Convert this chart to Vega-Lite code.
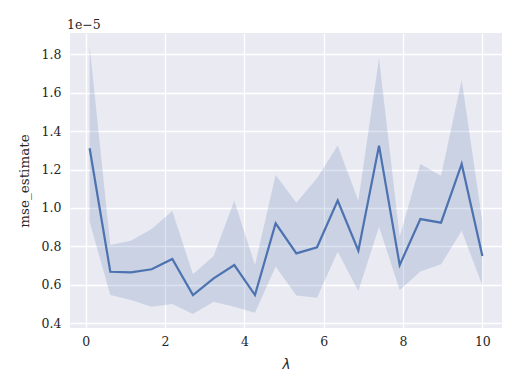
{
  "$schema": "https://vega.github.io/schema/vega-lite/v6.json",
  "width": 432,
  "height": 295,
  "autosize": {"type": "none"},
  "padding": {"left": 70, "top": 33, "right": 18, "bottom": 62},
  "background": "white",
  "title": {
    "text": "1e\u22125",
    "anchor": "start",
    "frame": "group",
    "font": "DejaVu Serif",
    "fontSize": 12.5,
    "fontWeight": "normal",
    "color": "#262626",
    "offset": 2,
    "dx": -3
  },
  "config": {
    "view": {"fill": "#EAEAF2", "stroke": null},
    "axis": {
      "domain": false,
      "ticks": false,
      "gridColor": "white",
      "gridWidth": 1.3,
      "labelFont": "DejaVu Serif",
      "labelFontSize": 12.5,
      "labelColor": "#262626",
      "titleFont": "DejaVu Serif",
      "titleFontSize": 13.5,
      "titleFontWeight": "normal",
      "titleColor": "#262626"
    }
  },
  "data": {
    "values": [
      {"lam": 0.1, "mse": 1.311e-5, "lo": 0.928e-5, "hi": 1.841e-5},
      {"lam": 0.621, "mse": 0.667e-5, "lo": 0.546e-5, "hi": 0.807e-5},
      {"lam": 1.142, "mse": 0.664e-5, "lo": 0.520e-5, "hi": 0.829e-5},
      {"lam": 1.663, "mse": 0.680e-5, "lo": 0.485e-5, "hi": 0.890e-5},
      {"lam": 2.184, "mse": 0.734e-5, "lo": 0.499e-5, "hi": 0.984e-5},
      {"lam": 2.705, "mse": 0.546e-5, "lo": 0.447e-5, "hi": 0.654e-5},
      {"lam": 3.226, "mse": 0.633e-5, "lo": 0.511e-5, "hi": 0.750e-5},
      {"lam": 3.747, "mse": 0.702e-5, "lo": 0.485e-5, "hi": 1.038e-5},
      {"lam": 4.268, "mse": 0.546e-5, "lo": 0.454e-5, "hi": 0.702e-5},
      {"lam": 4.789, "mse": 0.920e-5, "lo": 0.694e-5, "hi": 1.172e-5},
      {"lam": 5.311, "mse": 0.763e-5, "lo": 0.543e-5, "hi": 1.027e-5},
      {"lam": 5.832, "mse": 0.795e-5, "lo": 0.532e-5, "hi": 1.155e-5},
      {"lam": 6.353, "mse": 1.038e-5, "lo": 0.772e-5, "hi": 1.325e-5},
      {"lam": 6.874, "mse": 0.777e-5, "lo": 0.567e-5, "hi": 1.038e-5},
      {"lam": 7.395, "mse": 1.325e-5, "lo": 0.902e-5, "hi": 1.780e-5},
      {"lam": 7.916, "mse": 0.702e-5, "lo": 0.572e-5, "hi": 0.850e-5},
      {"lam": 8.437, "mse": 0.942e-5, "lo": 0.668e-5, "hi": 1.229e-5},
      {"lam": 8.958, "mse": 0.923e-5, "lo": 0.706e-5, "hi": 1.168e-5},
      {"lam": 9.479, "mse": 1.229e-5, "lo": 0.881e-5, "hi": 1.667e-5},
      {"lam": 10.0, "mse": 0.749e-5, "lo": 0.595e-5, "hi": 0.928e-5}
    ]
  },
  "encoding": {
    "x": {
      "field": "lam",
      "type": "quantitative",
      "scale": {"domain": [-0.395, 10.495], "nice": false, "zero": false},
      "axis": {
        "title": "\u03bb",
        "titleFont": "DejaVu Sans",
        "titleFontStyle": "italic",
        "values": [0, 2, 4, 6, 8, 10],
        "labelPadding": 7,
        "titlePadding": 10
      }
    }
  },
  "layer": [
    {
      "mark": {"type": "area", "color": "#4C72B0", "opacity": 0.2},
      "encoding": {
        "y": {
          "field": "lo",
          "type": "quantitative",
          "scale": {"domain": [0.374e-5, 1.912e-5], "nice": false, "zero": false},
          "axis": {
            "title": "mse_estimate",
            "values": [0.4e-5, 0.6e-5, 0.8e-5, 1.0e-5, 1.2e-5, 1.4e-5, 1.6e-5, 1.8e-5],
            "labelExpr": "format(datum.value * 1e5, '.1f')",
            "labelPadding": 9,
            "titlePadding": 10
          }
        },
        "y2": {"field": "hi"}
      }
    },
    {
      "mark": {"type": "line", "color": "#4C72B0", "strokeWidth": 2.2},
      "encoding": {
        "y": {"field": "mse", "type": "quantitative"}
      }
    }
  ]
}
